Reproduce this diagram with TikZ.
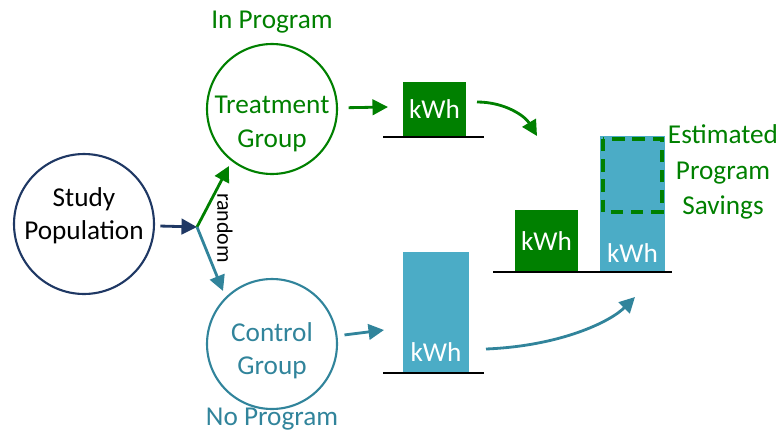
\documentclass[tikz,border=0pt]{standalone}
\usepackage{fontspec}
\setmainfont{Carlito}
\usepackage{xcolor}
\usetikzlibrary{positioning,arrows.meta}
\definecolor{progGreen}{RGB}{0,128,0}
\definecolor{ctrlTeal}{RGB}{49,132,155}
\definecolor{barTeal}{RGB}{75,172,198}
\definecolor{popNavy}{RGB}{31,56,100}
\tikzset{
    group/.style={circle, draw, line width=1.2pt, inner sep=0pt, minimum size=2.6cm},
    grouptext/.style={align=center, inner sep=0pt, font=\fontsize{15.5}{19}\selectfont},
    bar/.style={draw=none, inner sep=0pt, text=white, font=\fontsize{15.5}{19}\selectfont},
    kwh/.style={text=white, inner sep=0pt, font=\fontsize{15.5}{19}\selectfont},
    flow/.style={-{Triangle[length=3.1mm,width=3.1mm]}, line width=1.6pt},
    floor/.style={line width=1.4pt, black},
    caption/.style={font=\fontsize{15.5}{20}\selectfont, align=center}
}

\begin{document}
\begin{tikzpicture}[x=0.02cm, y=-0.02cm]
    \useasboundingbox (0,0) rectangle (781,433);

    % groups
    \node[group, popNavy, minimum size=2.8cm] (study) at (84,224) {};
    \node[grouptext] (studylbl) at ([yshift=0.16cm]study.center) {Study\\Population};
    \node[group, progGreen] (treat) at (272,109) {};
    \node[grouptext, text=progGreen] (treatlbl) at ([yshift=-0.3cm]treat.center) {Treatment\\Group};
    \node[group, ctrlTeal] (ctrl) at (272,344) {};
    \node[grouptext, text=ctrlTeal] (ctrllbl) at ([yshift=-0.14cm]ctrl.center) {Control\\Group};
    \node[caption, text=progGreen] (inprog) at (272,22) {In Program};
    \node[caption, text=ctrlTeal] (noprog) at (272,419) {No Program};

    % random assignment
    \coordinate (split) at (197,227);
    \coordinate (toTreat) at (229,166);
    \coordinate (toCtrl) at (223,291);
    \draw[flow, popNavy, shorten <=3pt] (study) -- (split);
    \draw[flow, progGreen] (split) -- (toTreat);
    \draw[flow, ctrlTeal] (split) -- (toCtrl);
    \node[rotate=-90, font=\fontsize{12.5}{14}\selectfont] (rand) at (225,228) {random};

    % measured usage
    \coordinate (treatIn) at (388,107);
    \coordinate (ctrlIn) at (384,330);
    \draw[flow, progGreen, shorten <=6pt] (treat) -- (treatIn);
    \draw[flow, ctrlTeal, shorten <=4pt] (ctrl) -- (ctrlIn);

    \node[bar, fill=progGreen, minimum width=1.26cm, minimum height=1.1cm] (grnbar) at (434.5,109.5) {kWh};
    \draw[floor] (383,137) -- (484,137);
    \node[bar, fill=barTeal, minimum width=1.32cm, minimum height=2.42cm] (tealbar) at (436,312.5) {};
    \node[kwh] (tealkwh) at (436,352) {kWh};
    \draw[floor] (383,373) -- (484,373);

    % comparison
    \node[bar, fill=progGreen, minimum width=1.26cm, minimum height=1.24cm] (cmpgrn) at (546.5,241) {kWh};
    \node[bar, fill=barTeal, minimum width=1.3cm, minimum height=2.74cm] (cmpteal) at (632.5,204.5) {};
    \node[kwh] (cmpkwh) at (632.5,253) {kWh};
    \draw[progGreen, line width=2.4pt, dash pattern=on 7pt off 4.5pt] (603,139) rectangle (662,212);
    \draw[floor] (493,272) -- (672,272);
    \node[caption, text=progGreen] (savings) at (723,172) {Estimated\\Program\\Savings};

    \coordinate (grnOut) at (477,102);
    \coordinate (grnTip) at (537,136);
    \coordinate (tealOut) at (486,349);
    \coordinate (tealTip) at (635,297);
    \draw[flow, progGreen] (grnOut) .. controls (505,102) and (525,116) .. (grnTip);
    \draw[flow, ctrlTeal] (tealOut) .. controls (560,346) and (610,322) .. (tealTip);
\end{tikzpicture}
\end{document}
